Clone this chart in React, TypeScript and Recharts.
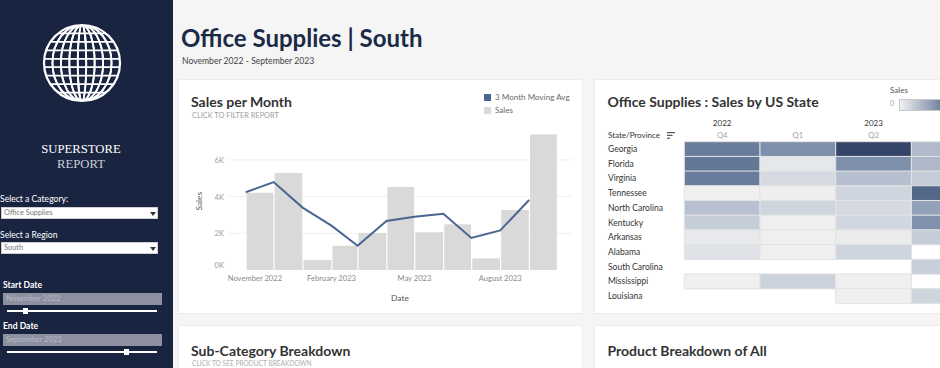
import React from 'react';
import { ComposedChart, BarChart, Bar, Line, XAxis, YAxis, CartesianGrid, Cell } from 'recharts';

// ---------- Sales per Month ----------
const months = ['2022-11', '2022-12', '2023-01', '2023-02', '2023-03', '2023-04', '2023-05', '2023-06', '2023-07', '2023-08', '2023-09'];
const monthNames = ['January', 'February', 'March', 'April', 'May', 'June', 'July', 'August', 'September', 'October', 'November', 'December'];
const sales = [4210, 5290, 545, 1320, 2015, 4525, 2055, 2490, 635, 3270, 7395];
const movingAvg = [4235, 4795, 3400, 2415, 1325, 2670, 2905, 3070, 1745, 2160, 3815];
const dateTicks = ['2022-11', '2023-02', '2023-05', '2023-08'];
const salesTicks = [0, 2000, 4000, 6000];

// ---------- Sales by US State ----------
const states = ['Georgia', 'Florida', 'Virginia', 'Tennessee', 'North Carolina', 'Kentucky', 'Arkansas', 'Alabama', 'South Carolina', 'Mississippi', 'Louisiana'];
const quarters = ['Q4', 'Q1', 'Q2', 'Q3'];
const quarterYears = ['2022', '2023', '2023', '2023'];
const q4_2022 = [2350, 2450, 2350, 20, 990, 750, 170, 300, null, 20, null];
const q1_2023 = [2000, 200, 480, 35, 580, 35, 35, 35, null, 650, null];
const q2_2023 = [3300, 2000, 1020, 580, 480, 540, 100, 580, null, 35, 35];
const q3_2023 = [1120, 1160, 750, 2750, 1630, 1970, 750, null, 710, null, 580];
const quarterValues = [q4_2022, q1_2023, q2_2023, q3_2023];

const FONT = 'Lato, "Noto Sans", sans-serif';
const NAVY = '#192441';
const LINE_BLUE = '#4b6592';
const BAR_GRAY = '#d9d9d9';

// date helpers
const DAY = 86400000;
const ym = (m: string) => m.split('-').map(Number);
const monthStart = (m: string) => { const [y, mo] = ym(m); return Date.UTC(y, mo - 1, 1); };
const monthEnd = (m: string) => { const [y, mo] = ym(m); return Date.UTC(y, mo, 1); };
const base = monthStart(months[0]);
const dayOf = (t: number) => Math.round((t - base) / DAY);
const monthLabel = (m: string) => { const [y, mo] = ym(m); return `${monthNames[mo - 1]} ${y}`; };

const barData = months.map((m, i) => {
  const s = dayOf(monthStart(m));
  const e = dayOf(monthEnd(m));
  return { x: (s + e) / 2, days: e - s, sales: sales[i] };
});
const lineData = months.map((m, i) => ({ x: dayOf(monthStart(m)), avg: movingAvg[i] }));
const totalDays = dayOf(monthEnd(months[months.length - 1]));
const avgDays = totalDays / months.length;
const X_DOMAIN: [number, number] = [-19, totalDays + 16];
const PLOT_W = 344;
const pxPerDay = PLOT_W / (X_DOMAIN[1] - X_DOMAIN[0]);
const tickDays = dateTicks.map((m) => dayOf(monthStart(m)));
const tickLabelOf = (d: number) => {
  const i = tickDays.indexOf(d);
  return i >= 0 ? monthLabel(dateTicks[i]) : '';
};

const MonthBar = (props: any) => {
  const { x, y, width, height } = props;
  const days = props.payload?.days ?? props.days ?? avgDays;
  const w = pxPerDay * days;
  const cx = x + width / 2;
  if (!(height > 0)) return null;
  return <rect x={cx - w / 2 + 0.6} y={y} width={w - 1.2} height={height} fill={BAR_GRAY} />;
};

const DateTick = (props: any) => {
  const { x, y, payload, index } = props;
  const first = index === 0;
  return (
    <text x={first ? x - 18 : x} y={y} dy="0.71em" textAnchor={first ? 'start' : 'middle'} fill="#8a8a8a" fontSize={7.6} fontFamily={FONT}>
      {tickLabelOf(payload.value)}
    </text>
  );
};

const SalesTick = (props: any) => {
  const { x, y, payload } = props;
  const shift = payload.value === 0 ? -5 : 0;
  return (
    <text x={x} y={y + shift} textAnchor="end" dominantBaseline="central" fill="#9a9a9a" fontSize={7.6} fontFamily={FONT}>
      {`${payload.value / 1000}K`}
    </text>
  );
};

// heat colour
const colorStops: [number, string][] = [
  [0, '#f1f1f1'], [0.15, '#d3d9e1'], [0.33, '#b0bacb'], [0.59, '#7d8fab'], [0.72, '#647796'], [0.81, '#536788'], [1, '#2e3f63'],
];
const HEAT_MAX = 3400;
const hex = (c: string) => [1, 3, 5].map((k) => parseInt(c.slice(k, k + 2), 16));
const heatColor = (v: number | null) => {
  if (v == null) return 'transparent';
  const t = Math.max(0, Math.min(1, v / HEAT_MAX));
  for (let i = 1; i < colorStops.length; i++) {
    const [t1, c1] = colorStops[i - 1];
    const [t2, c2] = colorStops[i];
    if (t <= t2) {
      const f = (t - t1) / (t2 - t1);
      const a = hex(c1), b = hex(c2);
      const r = a.map((av, k) => Math.round(av + (b[k] - av) * f));
      return `rgb(${r[0]},${r[1]},${r[2]})`;
    }
  }
  return colorStops[colorStops.length - 1][1];
};

const heatRows = states.map((s, i) => {
  const row: any = { state: s };
  quarters.forEach((q, j) => { row[`v${j}`] = quarterValues[j][i]; });
  return row;
});

const isYearCenter = (idx: number) => {
  const same = quarterYears.map((y, i) => (y === quarterYears[idx] ? i : -1)).filter((i) => i >= 0);
  return same[Math.floor(same.length / 2)] === idx;
};

const QuarterTick = (props: any) => {
  const { x, y, index } = props;
  return (
    <g fontFamily={FONT}>
      <text x={x} y={y - 6.5} textAnchor="middle" dominantBaseline="central" fill="#a0a0a0" fontSize={7.6}>{quarters[index]}</text>
      {isYearCenter(index) && (
        <text x={x} y={y - 19} textAnchor="middle" dominantBaseline="central" fill="#333" fontSize={8}>{quarterYears[index]}</text>
      )}
    </g>
  );
};

const StateTick = (props: any) => {
  const { y, payload } = props;
  return (
    <text x={12} y={y} dominantBaseline="central" fill="#333" fontSize={8.5} fontFamily={FONT}>{payload.value}</text>
  );
};

// ---------- text helper ----------
const T = ({ x, y, size, color = '#333', weight = 400, anchor = 'start', family = FONT, children }: any) => {
  const style: any = {
    position: 'absolute', top: y - size, height: size * 2, lineHeight: `${size * 2}px`, fontSize: size,
    color, fontWeight: weight, whiteSpace: 'nowrap', fontFamily: family,
  };
  if (anchor === 'middle') { style.left = x - 150; style.width = 300; style.textAlign = 'center'; }
  else style.left = x;
  return <div style={style}>{children}</div>;
};

const Globe = () => {
  const r = 38;
  const c = 40;
  const n = 9;
  const pos = Array.from({ length: n - 1 }, (_, k) => c - r + ((k + 1) * 2 * r) / n);
  return (
    <svg width={80} height={80} style={{ position: 'absolute', left: 42, top: 23 }}>
      <defs>
        <clipPath id="globeClip"><circle cx={c} cy={c} r={r} /></clipPath>
      </defs>
      <g stroke="#fff" strokeWidth={1.8} fill="none">
        <g clipPath="url(#globeClip)">
          {pos.map((p, i) => <line key={`h${i}`} x1={0} x2={80} y1={p} y2={p} />)}
          {pos.map((p, i) => (Math.abs(p - c) < 0.5
            ? <line key={`v${i}`} x1={c} x2={c} y1={0} y2={80} />
            : <ellipse key={`v${i}`} cx={c} cy={c} rx={Math.abs(p - c)} ry={r} />))}
        </g>
        <circle cx={c} cy={c} r={r} strokeWidth={2.2} />
      </g>
    </svg>
  );
};

const Dropdown = ({ y, text }: any) => (
  <div style={{ position: 'absolute', left: 1, top: y, width: 157, height: 12, background: '#fff', border: '1px solid #d0d0d0', boxSizing: 'border-box' }}>
    <T x={2} y={5.5} size={7.4} color="#777">{text}</T>
    <svg width={6} height={4} style={{ position: 'absolute', left: 148, top: 4 }}><path d="M0 0 L6 0 L3 4 Z" fill="#333" /></svg>
  </div>
);

const DateBox = ({ y, text, knob }: any) => (
  <>
    <div style={{ position: 'absolute', left: 3, top: y, width: 159, height: 12, background: '#8c909f' }} />
    <T x={6} y={y + 6} size={7.6} color="#b9bdc8">{text}</T>
    <div style={{ position: 'absolute', left: 7, top: y + 17, width: 150, height: 2, background: '#fff' }} />
    <div style={{ position: 'absolute', left: knob - 2.5, top: y + 15, width: 5, height: 6, background: '#fff' }} />
  </>
);

const Card = ({ x, y, w, h }: any) => (
  <div style={{ position: 'absolute', left: x, top: y, width: w, height: h, background: '#fff', boxShadow: '0 0 0 1px #ececec' }} />
);

export default function App() {
  return (
    <div style={{ position: 'absolute', left: 0, top: 0, width: 940, height: 368, overflow: 'hidden', background: '#f5f5f5', fontFamily: FONT }}>
      {/* sidebar */}
      <div style={{ position: 'absolute', left: 0, top: 0, width: 173, height: 368, background: NAVY }} />
      <Globe />
      <T x={81} y={150} size={12.7} color="#fff" anchor="middle" family='"Liberation Serif", serif'>SUPERSTORE</T>
      <T x={81} y={165} size={12.7} color="#c9cdd8" anchor="middle" family='"Liberation Serif", serif'>REPORT</T>
      <T x={0} y={200} size={8.6} color="#fff">Select a Category:</T>
      <Dropdown y={207} text="Office Supplies" />
      <T x={0} y={235.5} size={8.6} color="#fff">Select a Region</T>
      <Dropdown y={242} text="South" />
      <T x={3} y={286} size={8.6} color="#fff" weight={700}>Start Date</T>
      <DateBox y={293} text="November 2022" knob={25} />
      <T x={3} y={326.5} size={8.6} color="#fff" weight={700}>End Date</T>
      <DateBox y={334} text="September 2023" knob={126} />

      {/* header */}
      <T x={181} y={38} size={24} color="#1b2a47" weight={700}>Office Supplies | South</T>
      <T x={182} y={62} size={8.6} color="#444">November 2022 - September 2023</T>

      {/* cards */}
      <Card x={179} y={80} w={403} h={233} />
      <Card x={595} y={80} w={400} h={233} />
      <Card x={179} y={326} w={403} h={60} />
      <Card x={595} y={326} w={400} h={60} />

      {/* Sales per Month */}
      <T x={191} y={102} size={14} color="#333" weight={700}>Sales per Month</T>
      <T x={192} y={116.5} size={7.4} color="#a0a0a0">CLICK TO FILTER REPORT</T>
      <div style={{ position: 'absolute', left: 484, top: 93.5, width: 7, height: 7, background: LINE_BLUE }} />
      <T x={495} y={97} size={8.1} color="#6a6a6a">3 Month Moving Avg</T>
      <div style={{ position: 'absolute', left: 484, top: 106.5, width: 7, height: 7, background: BAR_GRAY }} />
      <T x={495} y={110} size={8.1} color="#6a6a6a">Sales</T>

      <div style={{ position: 'absolute', left: 179, top: 80 }}>
        <ComposedChart width={403} height={233} data={barData} margin={{ top: 52.4, right: 10, bottom: 0, left: 0 }}>
          <CartesianGrid horizontal vertical={false} stroke="#f0f0f0" horizontalValues={[2000, 4000, 6000]} />
          <XAxis
            dataKey="x" type="number" domain={X_DOMAIN} allowDataOverflow ticks={tickDays} interval={0}
            tick={<DateTick />} tickLine={false} axisLine={false} tickSize={0} tickMargin={6} height={43}
            label={{ value: 'Date', position: 'insideBottom', offset: 12, fill: '#555', fontSize: 8.4, fontFamily: FONT }}
          />
          <YAxis
            type="number" domain={[0, 7500]} ticks={salesTicks} interval={0} width={49}
            tick={<SalesTick />} tickLine={false} axisLine={false} tickSize={0} tickMargin={4}
            label={{ value: 'Sales', angle: -90, position: 'insideLeft', offset: 20, fill: '#555', fontSize: 8.4, fontFamily: FONT, style: { textAnchor: 'middle' } }}
          />
          <Bar dataKey="sales" barSize={pxPerDay * avgDays} shape={<MonthBar />} isAnimationActive={false} />
          <Line data={lineData} dataKey="avg" type="linear" stroke={LINE_BLUE} strokeWidth={2} dot={false} activeDot={false} isAnimationActive={false} />
        </ComposedChart>
      </div>

      {/* Sales by US State */}
      <T x={607.5} y={102} size={14} color="#333" weight={700}>Office Supplies : Sales by US State</T>
      <T x={899} y={90} size={8} color="#555" anchor="middle">Sales</T>
      <T x={890} y={104} size={7.6} color="#aaa">0</T>
      <div style={{ position: 'absolute', left: 898.5, top: 99, width: 62, height: 10, border: '1px solid #c8c8c8', background: `linear-gradient(to right, ${heatColor(0)}, ${heatColor(HEAT_MAX * 0.5)}, ${heatColor(HEAT_MAX)})` }} />
      <T x={608} y={135} size={8} color="#333">State/Province</T>
      <svg width={8} height={7} style={{ position: 'absolute', left: 667, top: 131.5 }}>
        <rect x={0} y={0} width={8} height={1.2} fill="#555" />
        <rect x={0} y={2.8} width={5.5} height={1.2} fill="#555" />
        <rect x={0} y={5.6} width={3} height={1.2} fill="#555" />
      </svg>

      <div style={{ position: 'absolute', left: 596, top: 80 }}>
        <BarChart width={400} height={240} data={heatRows} layout="vertical" barCategoryGap={0} margin={{ top: 31.7, right: 8.9, bottom: 16.7, left: 0 }}>
          <XAxis
            type="number" domain={[0, quarters.length]} orientation="top" ticks={quarters.map((_, j) => j + 0.5)} interval={0}
            tick={<QuarterTick />} tickLine={false} axisLine={false} tickSize={0} tickMargin={0} height={30}
          />
          <YAxis type="category" dataKey="state" width={88.3} tick={<StateTick />} tickLine={false} axisLine={false} interval={0} />
          {quarters.map((q, j) => (
            <Bar key={q} dataKey={() => 1} stackId="heat" isAnimationActive={false}>
              {heatRows.map((row, i) => {
                const v = row[`v${j}`];
                return <Cell key={i} fill={heatColor(v)} stroke={v == null ? 'none' : '#e3e3e3'} strokeWidth={1} />;
              })}
            </Bar>
          ))}
        </BarChart>
      </div>

      {/* bottom cards */}
      <T x={191} y={351} size={14} color="#333" weight={700}>Sub-Category Breakdown</T>
      <T x={192} y={364} size={6.6} color="#b0b0b0">CLICK TO SEE PRODUCT BREAKDOWN</T>
      <T x={607.5} y={351} size={14} color="#333" weight={700}>Product Breakdown of All</T>
    </div>
  );
}
